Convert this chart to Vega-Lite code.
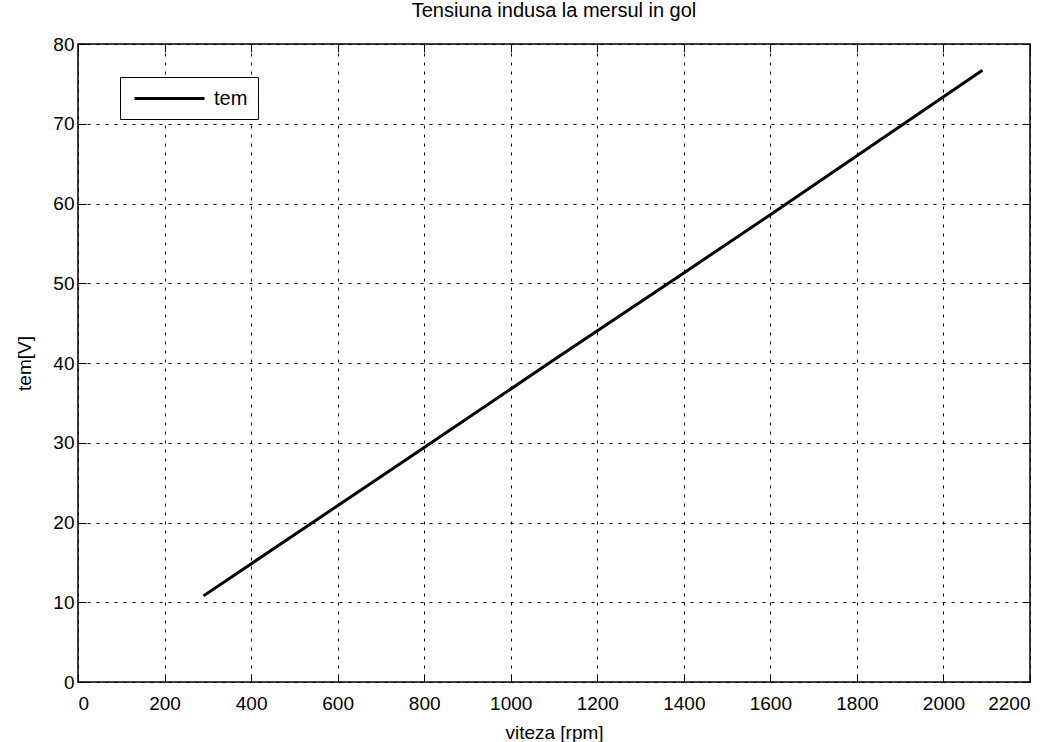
{
  "$schema": "https://vega.github.io/schema/vega-lite/v6.json",
  "autosize": "none",
  "width": 952,
  "height": 638,
  "padding": {"left": 78, "top": 44, "right": 25, "bottom": 60},
  "background": "white",
  "title": {"text": "Tensiuna indusa la mersul in gol", "font": "Liberation Sans", "fontSize": 20, "fontWeight": "normal", "color": "black", "offset": 14, "anchor": "middle"},
  "config": {
    "view": {"stroke": "black", "strokeWidth": 1.5},
    "font": "Liberation Sans",
    "axis": {"labelFont": "Liberation Sans", "labelFontSize": 19, "labelColor": "black", "titleFont": "Liberation Sans", "titleFontSize": 19, "titleFontWeight": "normal", "titleColor": "black", "domain": false, "tickColor": "black", "tickSize": -8, "tickWidth": 1, "gridColor": "black", "gridDash": [3, 6], "gridOpacity": 1, "gridWidth": 1, "format": "d"}
  },
  "data": {"values": [
    {"viteza": 290, "tem": 10.8, "serie": "tem"},
    {"viteza": 800, "tem": 29.4, "serie": "tem"},
    {"viteza": 1100, "tem": 40.4, "serie": "tem"},
    {"viteza": 1400, "tem": 51.3, "serie": "tem"},
    {"viteza": 1600, "tem": 58.6, "serie": "tem"},
    {"viteza": 2090, "tem": 76.7, "serie": "tem"}
  ]},
  "layer": [
    {
      "mark": {"type": "line", "strokeWidth": 3},
      "encoding": {
        "x": {"field": "viteza", "type": "quantitative", "scale": {"domain": [0, 2200], "nice": false},
              "axis": {"orient": "bottom", "values": [0,200,400,600,800,1000,1200,1400,1600,1800,2000,2200], "title": "viteza [rpm]", "labelPadding": 20, "titlePadding": 10}},
        "y": {"field": "tem", "type": "quantitative", "scale": {"domain": [0, 80], "nice": false},
              "axis": {"orient": "left", "values": [0,10,20,30,40,50,60,70,80], "title": "tem[V]", "labelPadding": 12, "titlePadding": 18}},
        "color": {"field": "serie", "type": "nominal", "scale": {"range": ["black"]},
                  "legend": {"title": null, "orient": "none", "legendX": 42, "legendY": 33, "symbolType": "M-3.5,0H3.5", "symbolSize": 400, "symbolStrokeWidth": 3, "symbolOffset": 28, "labelFontSize": 20, "labelFont": "Liberation Sans", "labelColor": "black", "strokeColor": "black", "fillColor": "white", "padding": 10, "labelOffset": 33}}
      }
    },
    {
      "mark": {"type": "line", "opacity": 0},
      "encoding": {
        "x": {"field": "viteza", "type": "quantitative", "axis": {"orient": "top", "values": [0,200,400,600,800,1000,1200,1400,1600,1800,2000,2200], "labels": false, "grid": false, "title": null}},
        "y": {"field": "tem", "type": "quantitative", "axis": {"orient": "right", "values": [0,10,20,30,40,50,60,70,80], "labels": false, "grid": false, "title": null}}
      }
    }
  ],
  "resolve": {"axis": {"x": "independent", "y": "independent"}}
}
